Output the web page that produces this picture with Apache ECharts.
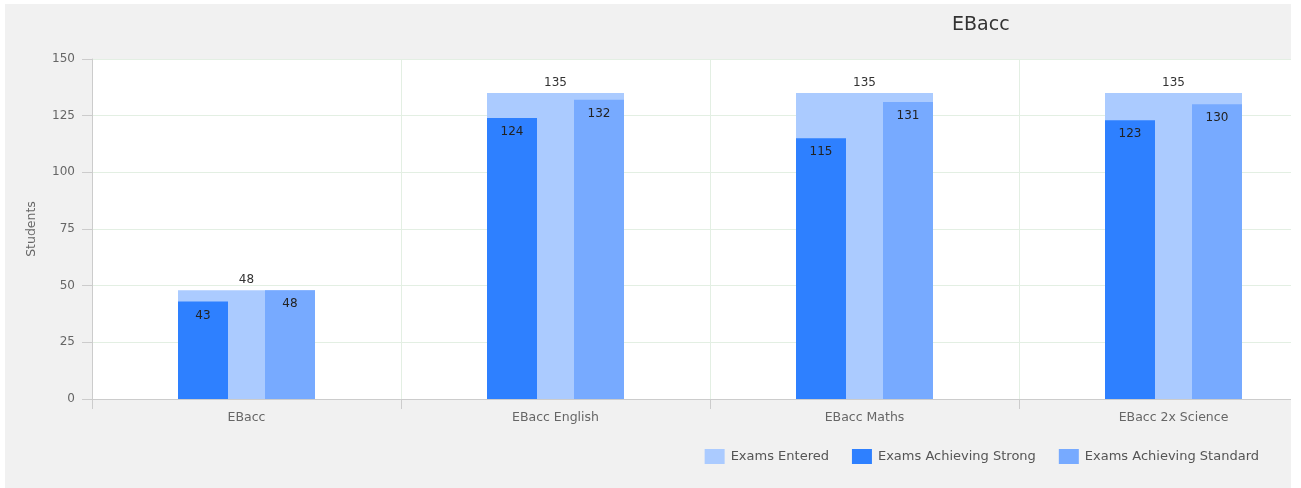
<!DOCTYPE html>
<html>
<head>
<meta charset="utf-8">
<script src="https://cdn.jsdelivr.net/npm/echarts@6/dist/echarts.min.js"></script>
<style>
html,body{margin:0;padding:0;background:#fff;width:1301px;height:488px;overflow:hidden;}
#wrap{position:absolute;left:5px;top:4px;width:1286px;height:484px;background:#f1f1f1;overflow:hidden;}
#chart{position:absolute;left:0;top:0;width:1323px;height:484px;}
</style>
</head>
<body>
<div id="wrap"><div id="chart"></div></div>
<script>
var categories = ['EBacc', 'EBacc English', 'EBacc Maths', 'EBacc 2x Science'];
var examsEntered = [48, 135, 135, 135];
var examsStrong = [43, 124, 115, 123];
var examsStandard = [48, 132, 131, 130];
var yTicks = [0, 25, 50, 75, 100, 125, 150];

var FONT = 'DejaVu Sans';
var chart = echarts.init(document.getElementById('chart'), null, {renderer: 'canvas'});
chart.setOption({
  backgroundColor: 'transparent',
  animation: false,
  textStyle: {fontFamily: FONT},
  title: {
    text: 'EBacc',
    left: 942,
    top: 7,
    textStyle: {fontFamily: FONT, fontSize: 19, fontWeight: 'normal', color: '#333'}
  },
  legend: {
    right: 64,
    top: 440,
    itemWidth: 20,
    itemHeight: 15,
    itemGap: 23,
    icon: 'rect',
    textStyle: {fontFamily: FONT, fontSize: 13, color: '#555', padding: [0, 0, 0, 1]},
    data: ['Exams Entered', 'Exams Achieving Strong', 'Exams Achieving Standard']
  },
  grid: {left: 87, top: 55, bottom: 89, right: 0, show: true, backgroundColor: '#fff', borderWidth: 0},
  xAxis: [{
    type: 'category',
    data: categories,
    axisLine: {lineStyle: {color: '#ccc'}},
    axisTick: {show: true, length: 10, lineStyle: {color: '#ccc'}},
    axisLabel: {fontFamily: FONT, fontSize: 12.5, color: '#666', margin: 12},
    splitLine: {show: true, lineStyle: {color: '#e3efe3'}}
  }, {
    type: 'category',
    data: categories,
    show: false
  }],
  yAxis: {
    type: 'value',
    min: yTicks[0],
    max: yTicks[yTicks.length - 1],
    interval: 25,
    name: 'Students',
    nameLocation: 'middle',
    nameGap: 54,
    nameTextStyle: {fontFamily: FONT, fontSize: 12.5, color: '#666'},
    axisLine: {show: true, lineStyle: {color: '#ccc'}},
    axisTick: {show: true, length: 10, lineStyle: {color: '#ccc'}},
    axisLabel: {fontFamily: FONT, fontSize: 12, color: '#666', margin: 17},
    splitLine: {show: true, lineStyle: {color: '#e3efe3'}}
  },
  series: [{
    name: 'Exams Entered',
    type: 'bar',
    xAxisIndex: 0,
    data: examsEntered,
    barWidth: 137,
    itemStyle: {color: '#abcbff'},
    label: {show: true, position: 'top', distance: 4, fontFamily: FONT, fontSize: 12, color: '#333'}
  }, {
    name: 'Exams Achieving Strong',
    type: 'bar',
    xAxisIndex: 1,
    data: examsStrong,
    barWidth: 50,
    barGap: '74%',
    itemStyle: {color: '#2e80ff'},
    label: {show: true, position: 'insideTop', distance: 8, fontFamily: FONT, fontSize: 12, color: '#222'}
  }, {
    name: 'Exams Achieving Standard',
    type: 'bar',
    xAxisIndex: 1,
    data: examsStandard,
    barWidth: 50,
    barGap: '74%',
    itemStyle: {color: '#77aaff'},
    label: {show: true, position: 'insideTop', distance: 8, fontFamily: FONT, fontSize: 12, color: '#222'}
  }]
});
</script>
</body>
</html>
